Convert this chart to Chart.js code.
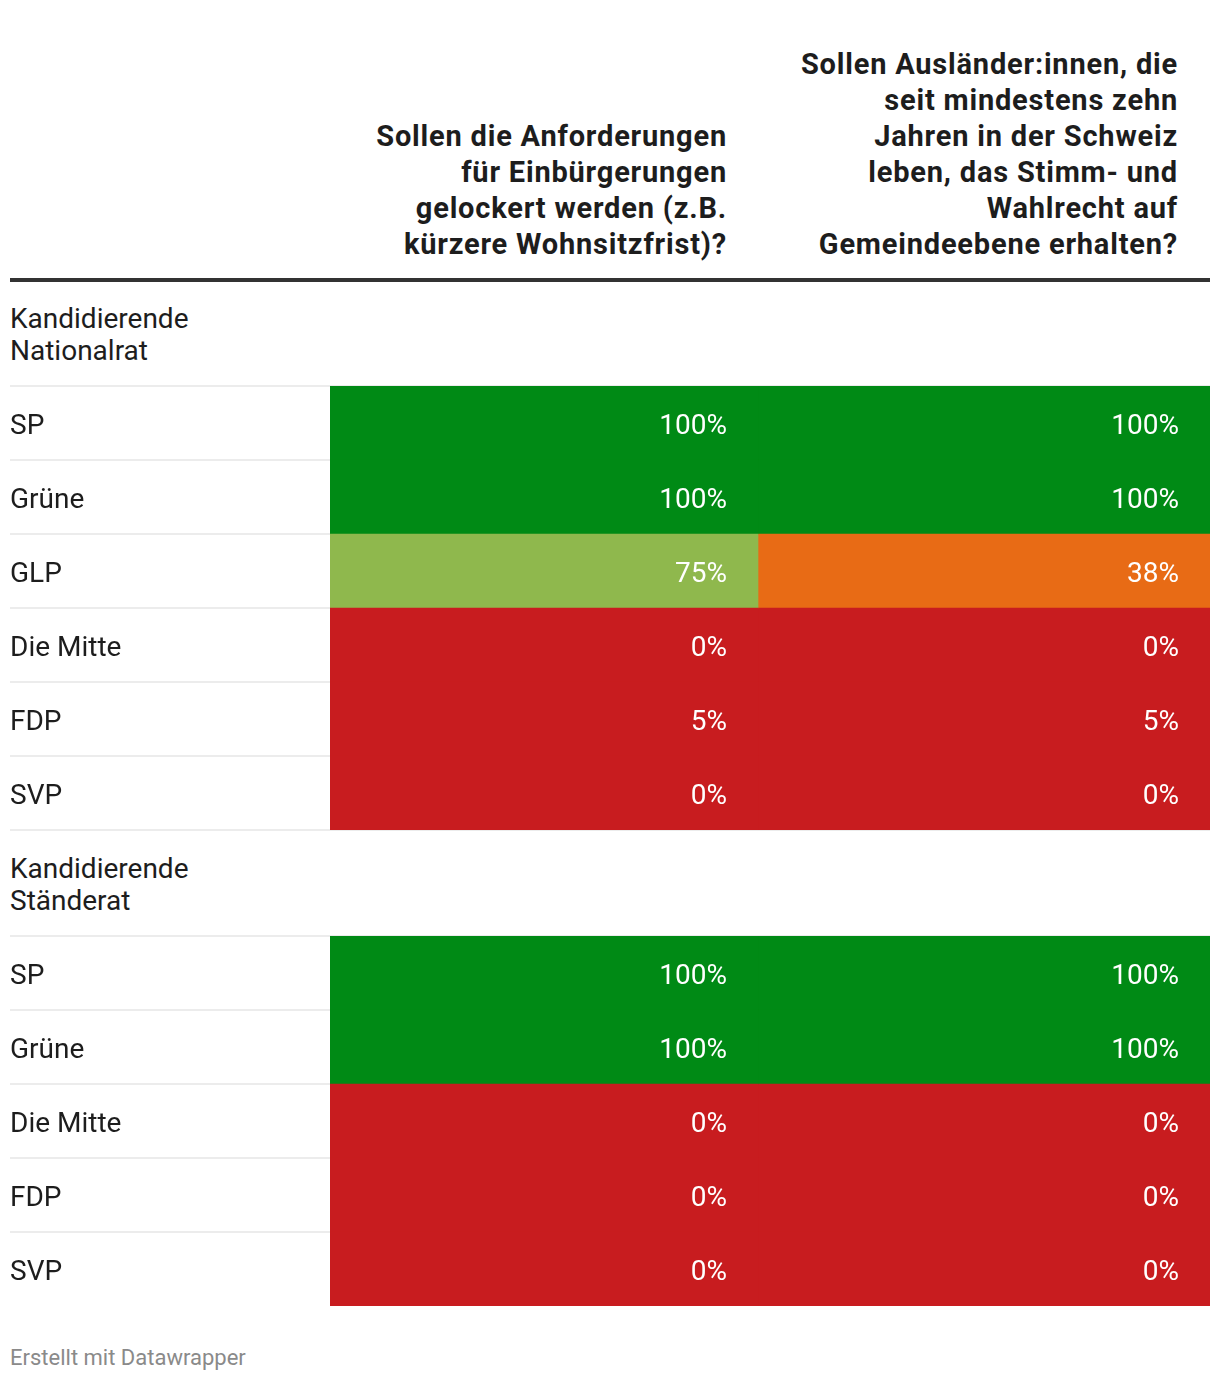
<!DOCTYPE html>
<html>
<head>
<meta charset="utf-8">
<script src="https://cdn.jsdelivr.net/npm/chart.js@4"></script>
<style>
  body { margin: 0; background: #fff; font-family: Roboto, sans-serif; }
  #page { position: relative; width: 1220px; height: 1382px; overflow: hidden; }
  .head { position: absolute; text-align: right; font-weight: 700; font-size: 29px; letter-spacing: 0.8px; line-height: 36px; color: #1d1d1d; }
  .group { position: absolute; left: 10px; font-size: 28px; line-height: 32px; color: #1d1d1d; }
  .rule { position: absolute; left: 10px; width: 1200px; top: 278px; height: 4px; background: #333; }
  canvas { position: absolute; left: 0; }
  .foot { position: absolute; left: 10px; top: 1345px; font-size: 22px; color: #8a8a8a; }
</style>
</head>
<body>
<div id="page">
  <div class="head" style="right:493px; top:118px;">Sollen die Anforderungen<br>für Einbürgerungen<br>gelockert werden (z.B.<br>kürzere Wohnsitzfrist)?</div>
  <div class="head" style="right:42px; top:46px;">Sollen Ausländer:innen, die<br>seit mindestens zehn<br>Jahren in der Schweiz<br>leben, das Stimm- und<br>Wahlrecht auf<br>Gemeindeebene erhalten?</div>
  <div class="rule"></div>

  <div class="group" style="top:303px;">Kandidierende<br>Nationalrat</div>
  <canvas id="nationalrat" width="1220" height="451" style="top:384px;"></canvas>

  <div class="group" style="top:853px;">Kandidierende<br>Ständerat</div>
  <canvas id="staenderat" width="1220" height="376" style="top:934px;"></canvas>

  <div class="foot">Erstellt mit Datawrapper</div>
</div>

<script>
// ---------------- DATA ----------------
const nrParties = ['SP', 'Grüne', 'GLP', 'Die Mitte', 'FDP', 'SVP'];
const nrEinbuergerung = [100, 100, 75, 0, 5, 0];
const nrStimmrecht = [100, 100, 38, 0, 5, 0];

const srParties = ['SP', 'Grüne', 'Die Mitte', 'FDP', 'SVP'];
const srEinbuergerung = [100, 100, 0, 0, 0];
const srStimmrecht = [100, 100, 0, 0, 0];

// column widths of the two question columns (layout)
const colWidths = [428, 452];

function cellColor(v) {
  if (v >= 90) return '#008a15';
  if (v >= 60) return '#8fb84d';
  if (v >= 25) return '#e86b15';
  return '#c81c1f';
}

// value labels, right aligned inside each cell
const cellLabels = {
  id: 'cellLabels',
  afterDatasetsDraw(chart) {
    const ctx = chart.ctx;
    ctx.save();
    ctx.font = '28px Roboto';
    ctx.fillStyle = '#ffffff';
    ctx.textAlign = 'right';
    ctx.textBaseline = 'middle';
    chart.data.datasets.forEach((ds, di) => {
      chart.getDatasetMeta(di).data.forEach((bar, i) => {
        ctx.fillText(ds.values[i] + '%', bar.x - 31, bar.y + 4);
      });
    });
    ctx.restore();
  }
};

function makeTable(id, parties, col1, col2, bottomLine) {
  const total = colWidths[0] + colWidths[1];
  const columns = [col1, col2];
  const datasets = columns.map((values, c) => {
    const start = c === 0 ? 0 : colWidths[0];
    const end = c === 0 ? colWidths[0] : total;
    return {
      values: values,
      data: values.map(() => [start, end]),
      backgroundColor: values.map(cellColor),
      borderWidth: 0,
      grouped: false,
      barPercentage: 1,
      categoryPercentage: 1
    };
  });

  return new Chart(document.getElementById(id), {
    type: 'bar',
    data: { labels: parties, datasets: datasets },
    options: {
      indexAxis: 'y',
      responsive: false,
      animation: false,
      devicePixelRatio: 1,
      layout: { padding: { left: 10, right: 10, top: 2, bottom: bottomLine ? 5 : 4 } },
      plugins: { legend: { display: false }, tooltip: { enabled: false } },
      scales: {
        x: { type: 'linear', min: 0, max: total, display: false },
        y: {
          type: 'category',
          position: 'left',
          z: 1,
          border: { display: false },
          grid: {
            offset: true,
            lineWidth: 2,
            tickLength: 320,
            // the closing line below the last row only in the first table
            color: ctx => (!bottomLine && ctx.type !== 'tick') ? 'rgba(0,0,0,0)' : 'rgba(0,0,0,0.075)'
          },
          ticks: {
            crossAlign: 'far',
            padding: 0,
            labelOffset: 4,
            color: '#1d1d1d',
            font: { family: 'Roboto', size: 28 }
          },
          afterFit: scale => {
            scale.width = 320;
            scale.paddingTop = 0;
            scale.paddingBottom = 0;
          }
        }
      }
    },
    plugins: [cellLabels]
  });
}

makeTable('nationalrat', nrParties, nrEinbuergerung, nrStimmrecht, true);
makeTable('staenderat', srParties, srEinbuergerung, srStimmrecht, false);
</script>
</body>
</html>
